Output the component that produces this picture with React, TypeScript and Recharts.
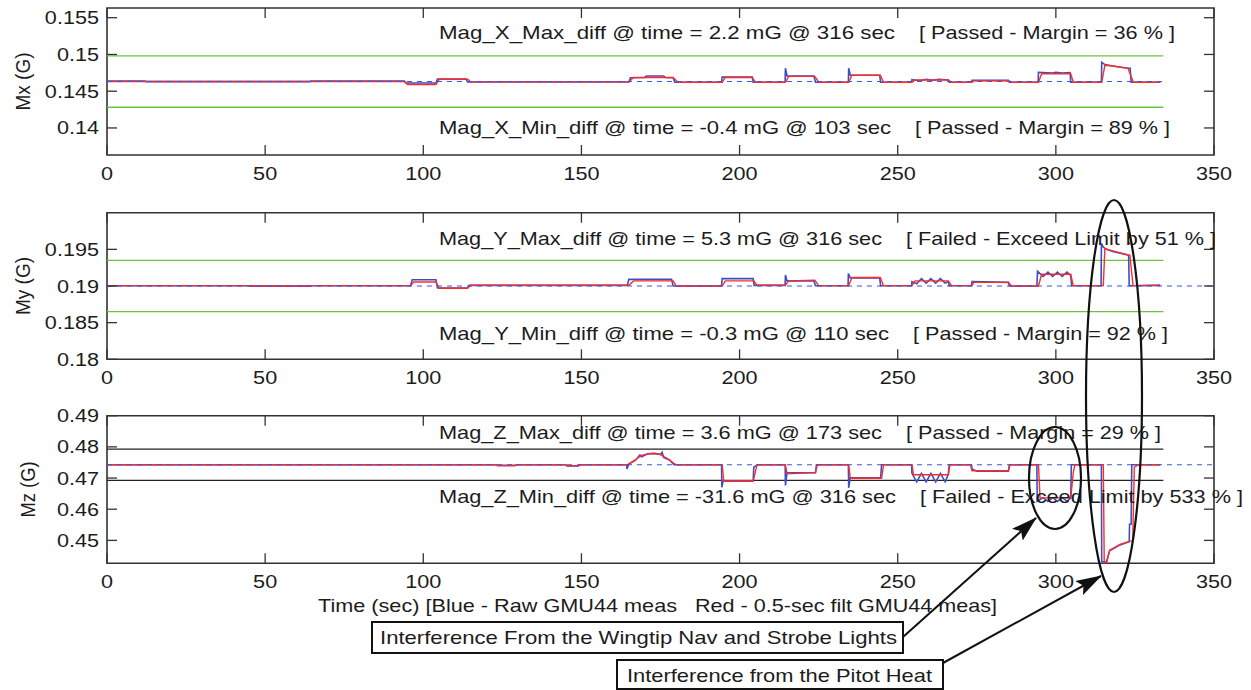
import React from 'react';
import { LineChart, Line, XAxis, YAxis, ReferenceArea } from 'recharts';

// ---------- data ----------
const X_TICKS = [0, 50, 100, 150, 200, 250, 300, 350];
const MX_TICKS = [0.14, 0.145, 0.15, 0.155];
const MY_TICKS = [0.18, 0.185, 0.19, 0.195];
const MZ_TICKS = [0.45, 0.46, 0.47, 0.48, 0.49];
const MX_DOMAIN = [0.13632, 0.15632];
const MY_DOMAIN = [0.18, 0.2];
const MZ_DOMAIN = [0.44265, 0.49];

// baselines and limits [t, value]
const MX_BASE = [[0, 0.14632], [334, 0.14632]];
const MX_LIM_HI = [[0, 0.14982], [334, 0.14982]];
const MX_LIM_LO = [[0, 0.14282], [334, 0.14282]];
const MY_BASE = [[0, 0.19], [350, 0.19]];
const MY_LIM_HI = [[0, 0.1935], [334, 0.1935]];
const MY_LIM_LO = [[0, 0.1865], [334, 0.1865]];
const MZ_BASE = [[0, 0.47425], [350, 0.47425]];
const MZ_LIM_HI = [[0, 0.47925], [334, 0.47925]];
const MZ_LIM_LO = [[0, 0.46925], [334, 0.46925]];

// raw (blue) and filtered (red) measurements [t, value]
const MX_RAW = [
  [0, 0.14637], [12, 0.14637], [12.5, 0.1463], [64, 0.1463], [64.5, 0.14637], [94, 0.14637], [94.5, 0.14612],
  [104, 0.14612], [104.5, 0.14667], [113.5, 0.14667], [114, 0.14625], [165, 0.14625], [165.5, 0.14682],
  [170, 0.14687], [170.5, 0.14707], [176, 0.14707], [176.5, 0.14687], [179, 0.14682], [179.5, 0.14622],
  [194.3, 0.14622], [194.5, 0.14692], [204, 0.14692], [204.3, 0.14622], [214.4, 0.14622], [214.5, 0.14812],
  [215, 0.14707], [223.5, 0.14707], [224, 0.14622], [234.4, 0.14622], [234.5, 0.14812], [235, 0.14717],
  [244.3, 0.14717], [244.6, 0.14622], [254.4, 0.14622], [254.5, 0.14657], [257, 0.14642], [259, 0.14662],
  [261, 0.14647], [263, 0.14662], [266, 0.14652], [266.3, 0.14622], [273.4, 0.14622], [273.5, 0.14647],
  [285, 0.14647], [285.3, 0.14622], [294.4, 0.14622], [294.5, 0.14757], [299, 0.14747], [300, 0.14757],
  [302, 0.14747], [304.5, 0.14752], [304.7, 0.14622], [314.4, 0.14622], [314.5, 0.14892], [315.5, 0.14862],
  [318, 0.14842], [322.8, 0.14812], [323.5, 0.14812], [323.8, 0.14622], [333, 0.14622],
];
const MX_FILT = [
  [0, 0.14632], [94, 0.14632], [95, 0.14592], [104, 0.14592], [105, 0.14662], [114, 0.14662], [115, 0.14627],
  [165, 0.14627], [166.5, 0.14687], [179, 0.14687], [180.5, 0.14622], [194.5, 0.14622], [195.5, 0.14687],
  [204, 0.14687], [205, 0.14622], [214.5, 0.14622], [215.5, 0.14702], [223.8, 0.14702], [225, 0.14622],
  [234.5, 0.14622], [235.5, 0.14717], [244.5, 0.14717], [245.5, 0.14622], [254.5, 0.14622], [255.5, 0.14652],
  [266, 0.14652], [267, 0.14622], [273.5, 0.14622], [274, 0.14642], [285, 0.14642], [286, 0.14622],
  [294.5, 0.14622], [295.5, 0.14737], [304.7, 0.14737], [305.5, 0.14622], [314.5, 0.14622], [315.5, 0.14852],
  [318, 0.14842], [322.8, 0.14812], [324.5, 0.14622], [333, 0.14622],
];
const MY_RAW = [
  [0, 0.19003], [45, 0.19003], [45.5, 0.18998], [64, 0.18998], [64.5, 0.19003], [96, 0.19003], [96.5, 0.19085],
  [104, 0.19085], [104.5, 0.18972], [114, 0.18972], [114.5, 0.19008], [164.5, 0.19008], [165, 0.1909],
  [178.5, 0.1909], [179, 0.19], [194.3, 0.19], [194.5, 0.191], [204.3, 0.191], [204.6, 0.19008],
  [214.4, 0.19008], [214.5, 0.1915], [215, 0.1907], [223.5, 0.1907], [224, 0.19003], [234.3, 0.19003],
  [234.4, 0.1917], [235, 0.1911], [244.3, 0.1911], [244.6, 0.19003], [254.4, 0.19003], [254.5, 0.1906],
  [256, 0.1903], [257.5, 0.191], [259, 0.1904], [260.5, 0.191], [262, 0.1904], [263.5, 0.191], [265, 0.1904],
  [266, 0.1906], [266.3, 0.19003], [273.3, 0.19003], [273.5, 0.1906], [285, 0.1905], [285.3, 0.19], [294, 0.19],
  [294.2, 0.192], [296, 0.1913], [297.5, 0.1919], [299, 0.1913], [300.5, 0.1919], [302, 0.1913], [303.5, 0.1919],
  [304.7, 0.1914], [305, 0.19003], [314.3, 0.19003], [314.4, 0.1958], [315, 0.1953], [316, 0.195],
  [318, 0.1947], [320, 0.1945], [323, 0.1942], [323.2, 0.19003], [333, 0.19008],
];
const MY_FILT = [
  [0, 0.19005], [45, 0.19005], [46, 0.19], [64, 0.19], [65, 0.19005], [96, 0.19005], [97, 0.19055],
  [104, 0.19055], [105, 0.1897], [114, 0.1897], [115, 0.1901], [165, 0.1901], [166.5, 0.1907], [179, 0.1907],
  [180, 0.19], [194.5, 0.19], [195.5, 0.1907], [204.5, 0.1907], [205.5, 0.1901], [214.5, 0.1901],
  [215.5, 0.1907], [223.8, 0.1908], [225, 0.19005], [234.5, 0.19005], [235.5, 0.19115], [244.5, 0.19115],
  [245.5, 0.19005], [254.5, 0.19005], [255.5, 0.1907], [266, 0.1907], [267, 0.19005], [273.5, 0.19005],
  [274, 0.1905], [285, 0.1905], [286, 0.19], [294.5, 0.19], [295.5, 0.1916], [304.7, 0.1916], [305.5, 0.19005],
  [315, 0.19005], [315.5, 0.1951], [318, 0.1948], [323.4, 0.1942], [324.4, 0.19005], [333, 0.1901],
];
const MZ_RAW = [
  [0, 0.47425], [123, 0.47425], [123.5, 0.4741], [129, 0.4741], [129.5, 0.47425], [145, 0.47425],
  [145.5, 0.4739], [149, 0.4739], [149.5, 0.47425], [164.3, 0.47425], [164.4, 0.47295], [165, 0.4745],
  [167, 0.47565], [168.5, 0.4774], [169, 0.4768], [171, 0.47775], [173, 0.4779], [175, 0.4776],
  [175.5, 0.4783], [176, 0.4766], [178, 0.4757], [179, 0.4745], [179.3, 0.47425], [194.3, 0.47425],
  [194.4, 0.46705], [194.8, 0.46915], [204.3, 0.46915], [204.5, 0.4735], [205.4, 0.4741], [206, 0.47425],
  [214.4, 0.47425], [214.5, 0.46765], [215, 0.4717], [224, 0.4717], [224.3, 0.47425], [234.4, 0.47425],
  [234.5, 0.46685], [235, 0.4701], [244.6, 0.4701], [244.9, 0.47425], [254.4, 0.47425], [254.5, 0.4715],
  [256, 0.4688], [257.5, 0.4715], [259, 0.4688], [260.5, 0.4715], [262, 0.4688], [263.5, 0.4715],
  [265, 0.4688], [266, 0.4712], [266.3, 0.47425], [273.3, 0.47425], [273.5, 0.4729], [275, 0.4722],
  [285, 0.4722], [285.3, 0.47425], [294, 0.47425], [294.1, 0.46255], [296, 0.4637], [297.5, 0.4625],
  [299, 0.4637], [300.5, 0.4625], [302, 0.4637], [303.5, 0.4626], [304.7, 0.4636], [304.9, 0.47425],
  [314.4, 0.47425], [314.5, 0.44325], [316, 0.4431], [317, 0.44665], [320.3, 0.44855], [323.2, 0.44955],
  [323.3, 0.4552], [323.8, 0.4552], [324, 0.47425], [333, 0.47425],
];
const MZ_FILT = [
  [0, 0.47425], [123, 0.47425], [123.5, 0.47395], [129, 0.47395], [129.5, 0.47425], [145, 0.47425],
  [145.5, 0.47395], [149, 0.47395], [149.5, 0.47425], [164.5, 0.47425], [166, 0.4752], [167, 0.47585],
  [169, 0.47725], [171, 0.47775], [173, 0.47785], [175, 0.4775], [177, 0.47635], [179, 0.4749],
  [180, 0.47425], [194.5, 0.47425], [195, 0.46895], [204.3, 0.46895], [205.5, 0.47425], [214.5, 0.47425],
  [215, 0.47135], [224, 0.47175], [224.6, 0.47425], [234.5, 0.47425], [235, 0.46995], [244.9, 0.46995],
  [245.5, 0.47425], [254.5, 0.47425], [255, 0.47105], [266, 0.47105], [266.5, 0.47425], [273, 0.47425],
  [273.5, 0.47235], [285, 0.47235], [285.5, 0.47425], [294.5, 0.47425], [295, 0.46365], [304.7, 0.46365],
  [305.5, 0.4717], [306, 0.47425], [315, 0.47425], [315.3, 0.44265], [316, 0.44265], [317, 0.44685],
  [320.3, 0.44875], [323.4, 0.44975], [324.3, 0.44985], [324.8, 0.4735], [326, 0.47425], [333, 0.47425],
];

// text
const Y_TITLES = ['Mx (G)', 'My (G)', 'Mz (G)'];
const STAT_LEFT = [
  'Mag_X_Max_diff @ time =  2.2 mG @  316 sec',
  'Mag_X_Min_diff @ time = -0.4 mG @  103 sec',
  'Mag_Y_Max_diff @ time = 5.3 mG @ 316 sec',
  'Mag_Y_Min_diff @ time = -0.3 mG @  110 sec',
  'Mag_Z_Max_diff @ time = 3.6 mG @ 173 sec',
  'Mag_Z_Min_diff @ time = -31.6 mG @ 316 sec',
];
const STAT_RIGHT = [
  '[ Passed - Margin = 36 % ]',
  '[ Passed - Margin = 89 % ]',
  '[ Failed - Exceed Limit by 51 % ]',
  '[ Passed - Margin = 92 % ]',
  '[ Passed - Margin = 29 % ]',
  '[ Failed - Exceed Limit by 533 % ]',
];
const X_TITLE = ['Time (sec) [Blue - Raw GMU44 meas', 'Red - 0.5-sec filt GMU44 meas]'];
const CALLOUTS = ['Interference From the Wingtip Nav and Strobe Lights', 'Interference from the Pitot Heat'];

// ---------- style ----------
const FONT = '"Liberation Sans", Arial, Helvetica, sans-serif';
const FS = 18.5;
const SX = 1.17;
const TXT = '#1c1c1c';
const AXIS = '#333333';
const BLUE = '#3a4fc4';
const RED = '#ff2b2b';
const GREEN = '#6cc341';
const DASH = '#3b59d0';
const PLOT_L = 107;
const PLOT_R = 1214;

const toPts = (arr: number[][]) => arr.map(([t, v]) => ({ t, v }));

function makeXTick(top: number, bottom: number) {
  return (p: any) => {
    const x = p.payload && p.payload.coordinate != null ? p.payload.coordinate : p.x;
    return (
      <g>
        <line x1={x} x2={x} y1={bottom} y2={bottom - 10} stroke={AXIS} strokeWidth={1.3} />
        <line x1={x} x2={x} y1={top} y2={top + 10} stroke={AXIS} strokeWidth={1.3} />
        <text
          transform={`translate(${x},${bottom + 24.5}) scale(${SX},1)`}
          textAnchor="middle"
          fontSize={FS}
          fontFamily={FONT}
          fill={TXT}
        >
          {String(p.payload.value)}
        </text>
      </g>
    );
  };
}

function makeYTick() {
  return (p: any) => {
    const y = p.payload && p.payload.coordinate != null ? p.payload.coordinate : p.y;
    return (
      <g>
        <line x1={PLOT_L} x2={PLOT_L + 10} y1={y} y2={y} stroke={AXIS} strokeWidth={1.3} />
        <line x1={PLOT_R} x2={PLOT_R - 10} y1={y} y2={y} stroke={AXIS} strokeWidth={1.3} />
        <text
          transform={`translate(${PLOT_L - 8},${y + 6.5}) scale(${SX},1)`}
          textAnchor="end"
          fontSize={FS}
          fontFamily={FONT}
          fill={TXT}
        >
          {String(p.payload.value)}
        </text>
      </g>
    );
  };
}

type PanelProps = {
  top: number;
  height: number;
  mt: number;
  xh: number;
  domain: number[];
  yTicks: number[];
  raw: number[][];
  filt: number[][];
  base: number[][];
  hi: number[][];
  lo: number[][];
  limColor: string;
};

function Panel({ top, height, mt, xh, domain, yTicks, raw, filt, base, hi, lo, limColor }: PanelProps) {
  const plotTop = mt;
  const plotBottom = height - xh;
  return (
    <div style={{ position: 'absolute', left: 0, top, width: 1251, height }}>
      <LineChart width={1251} height={height} margin={{ top: mt, right: 1251 - PLOT_R, bottom: 0, left: 0 }}>
        <XAxis
          type="number"
          dataKey="t"
          domain={[0, 350]}
          ticks={X_TICKS}
          interval={0}
          allowDataOverflow
          height={xh}
          axisLine={false}
          tickLine={false}
          tick={makeXTick(plotTop, plotBottom)}
        />
        <YAxis
          type="number"
          dataKey="v"
          domain={domain}
          ticks={yTicks}
          interval={0}
          allowDataOverflow
          width={PLOT_L}
          axisLine={false}
          tickLine={false}
          tick={makeYTick()}
        />
        <Line data={toPts(hi)} dataKey="v" type="linear" stroke={limColor} strokeWidth={1.3} dot={false} activeDot={false} isAnimationActive={false} />
        <Line data={toPts(lo)} dataKey="v" type="linear" stroke={limColor} strokeWidth={1.3} dot={false} activeDot={false} isAnimationActive={false} />
        <Line data={toPts(raw)} dataKey="v" type="linear" stroke={BLUE} strokeWidth={1.6} dot={false} activeDot={false} isAnimationActive={false} />
        <Line data={toPts(filt)} dataKey="v" type="linear" stroke={RED} strokeWidth={1.4} dot={false} activeDot={false} isAnimationActive={false} />
        <Line data={toPts(base)} dataKey="v" type="linear" stroke={DASH} strokeWidth={1.1} strokeDasharray="5 5" dot={false} activeDot={false} isAnimationActive={false} />
        <ReferenceArea x1={0} x2={350} y1={domain[0]} y2={domain[1]} fill="none" stroke={AXIS} strokeWidth={1.6} ifOverflow="visible" />
      </LineChart>
    </div>
  );
}

function T({ x, y, len, children, anchor }: any) {
  return (
    <text
      x={x}
      y={y}
      textLength={len}
      lengthAdjust="spacingAndGlyphs"
      fontSize={FS}
      fontFamily={FONT}
      fill={TXT}
      textAnchor={anchor || 'start'}
    >
      {children}
    </text>
  );
}

function YTitle({ cx, cy, len, text }: any) {
  return (
    <g transform={`translate(${cx},${cy}) rotate(-90)`}>
      <text x={-len / 2} y={7} textLength={len} lengthAdjust="spacingAndGlyphs" fontSize={19.5} fontFamily={FONT} fill={TXT}>
        {text}
      </text>
    </g>
  );
}

export default function App() {
  return (
    <div style={{ position: 'absolute', left: 0, top: 0, width: 1251, height: 690, background: '#fff', overflow: 'hidden' }}>
      <Panel top={0} height={190} mt={8} xh={35} domain={MX_DOMAIN} yTicks={MX_TICKS}
        raw={MX_RAW} filt={MX_FILT} base={MX_BASE} hi={MX_LIM_HI} lo={MX_LIM_LO} limColor={GREEN} />
      <Panel top={190} height={200} mt={22.7} xh={30.7} domain={MY_DOMAIN} yTicks={MY_TICKS}
        raw={MY_RAW} filt={MY_FILT} base={MY_BASE} hi={MY_LIM_HI} lo={MY_LIM_LO} limColor={GREEN} />
      <Panel top={390} height={240} mt={25.7} xh={66.7} domain={MZ_DOMAIN} yTicks={MZ_TICKS}
        raw={MZ_RAW} filt={MZ_FILT} base={MZ_BASE} hi={MZ_LIM_HI} lo={MZ_LIM_LO} limColor="#222222" />

      <svg width={1251} height={690} style={{ position: 'absolute', left: 0, top: 0, pointerEvents: 'none' }}>
        <defs>
          <marker id="ah" markerUnits="userSpaceOnUse" markerWidth={26} markerHeight={16} refX={25} refY={8} orient="auto">
            <path d="M0,0 L26,8 L0,16 L5,8 z" fill="#111" />
          </marker>
        </defs>

        <YTitle cx={23} cy={81.5} len={58} text={Y_TITLES[0]} />
        <YTitle cx={23} cy={286} len={58} text={Y_TITLES[1]} />
        <YTitle cx={28} cy={489.5} len={56} text={Y_TITLES[2]} />

        <T x={439} y={39} len={456}>{STAT_LEFT[0]}</T>
        <T x={919} y={39} len={256}>{STAT_RIGHT[0]}</T>
        <T x={439} y={133.5} len={452}>{STAT_LEFT[1]}</T>
        <T x={915} y={133.5} len={255}>{STAT_RIGHT[1]}</T>
        <T x={439} y={245} len={443}>{STAT_LEFT[2]}</T>
        <T x={906} y={245} len={310}>{STAT_RIGHT[2]}</T>
        <T x={439} y={339.5} len={450}>{STAT_LEFT[3]}</T>
        <T x={913} y={339.5} len={255}>{STAT_RIGHT[3]}</T>
        <T x={439} y={439} len={443}>{STAT_LEFT[4]}</T>
        <T x={906} y={439} len={255}>{STAT_RIGHT[4]}</T>
        <T x={439} y={502.5} len={457}>{STAT_LEFT[5]}</T>
        <T x={920} y={502.5} len={323}>{STAT_RIGHT[5]}</T>

        <T x={318} y={612} len={359}>{X_TITLE[0]}</T>
        <T x={695} y={612} len={302}>{X_TITLE[1]}</T>

        <ellipse cx={1055} cy={478} rx={26} ry={51} fill="none" stroke="#111" strokeWidth={2.2} />
        <ellipse cx={1114} cy={396} rx={28} ry={196} fill="none" stroke="#111" strokeWidth={2.2} />

        <line x1={903} y1={637} x2={1036} y2={518} stroke="#111" strokeWidth={2} markerEnd="url(#ah)" />
        <line x1={943} y1={663} x2={1101} y2={576} stroke="#111" strokeWidth={2} markerEnd="url(#ah)" />

        <rect x={372} y={622} width={531} height={31} fill="#fff" stroke="#111" strokeWidth={2} />
        <T x={380} y={644} len={517}>{CALLOUTS[0]}</T>
        <rect x={617} y={660} width={326} height={29} fill="#fff" stroke="#111" strokeWidth={2} />
        <T x={627} y={682} len={305}>{CALLOUTS[1]}</T>
      </svg>
    </div>
  );
}
